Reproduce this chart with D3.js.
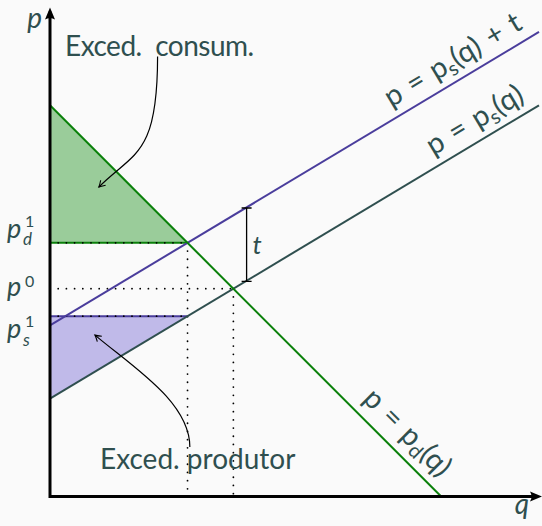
<!DOCTYPE html>
<html><head><meta charset="utf-8">
<script src="https://cdn.jsdelivr.net/npm/d3@7"></script>
<style>
html,body{margin:0;padding:0;background:#fafafa;}
svg{display:block;font-family:Lato,"Open Sans",sans-serif;}
</style></head><body>
<svg id="chart" width="542" height="526"></svg>
<script>
// ---- data ----
const qDomain = [0, 10];
const pDomain = [0, 10];
const demandLine = [{q:0,p:8},{q:8,p:0}];
const supplyLine = [{q:0,p:2},{q:10,p:8}];
const supplyTaxLine = [{q:0,p:3.5},{q:10,p:9.5}];
const taxValue = 1.5;
const taxMarkQ = 4;
const equilibrium0 = {q:3.75, p:4.25};
const equilibrium1 = {q:2.8125, pd:5.1875, ps:3.6875};
const consumerSurplus = [{q:0,p:8},{q:0,p:5.1875},{q:2.8125,p:5.1875}];
const producerSurplus = [{q:0,p:2},{q:0,p:3.6875},{q:2.8125,p:3.6875}];
const annotationLabels = ["Exced.\u2002consum.", "Exced. produtor"];
const annotationFrom = [{q:2.2,p:9.0},{q:2.86,p:1.01}];
const annotationTo = [{q:1.0,p:6.33},{q:0.92,p:3.3}];
const lineLabelPos = [8.45, 8.9, 7.0]; // q positions (supply+t, supply, demand)

// ---- styles ----
const C_TEXT = "#2f4f4f";
const C_GREEN = "#0a800a";
const C_GREEN_FILL = "#9acc9a";
const C_PURPLE = "#4a3d9c";
const C_PURPLE_FILL = "#c0bae9";
const C_SUPPLY = "#2f4f4f";

const svg = d3.select("#chart");
const x = d3.scaleLinear().domain(qDomain).range([50, 539]);
const y = d3.scaleLinear().domain(pDomain).range([496.5, 7.5]);
const line = d3.line().x(d => x(d.q)).y(d => y(d.p));

// fills
svg.append("path").attr("d", line(consumerSurplus) + "Z").attr("fill", C_GREEN_FILL);
svg.append("path").attr("d", line(producerSurplus) + "Z").attr("fill", C_PURPLE_FILL);

// surplus edges
svg.append("path").attr("d", line([consumerSurplus[1], consumerSurplus[2]]))
  .attr("stroke", C_GREEN).attr("stroke-width", 2).attr("fill", "none");
svg.append("path").attr("d", line([producerSurplus[1], producerSurplus[2]]))
  .attr("stroke", C_PURPLE).attr("stroke-width", 2).attr("fill", "none");

// dotted guides
const dotted = [
  [{q:0,p:equilibrium0.p},{q:equilibrium0.q,p:equilibrium0.p}],
  [{q:equilibrium0.q,p:equilibrium0.p},{q:equilibrium0.q,p:0}],
  [{q:0,p:equilibrium1.pd},{q:equilibrium1.q,p:equilibrium1.pd}],
  [{q:0,p:equilibrium1.ps},{q:equilibrium1.q,p:equilibrium1.ps}],
  [{q:equilibrium1.q,p:equilibrium1.pd},{q:equilibrium1.q,p:0}]
];
dotted.forEach(seg => {
  svg.append("path").attr("d", line(seg))
    .attr("stroke", "#000").attr("stroke-width", 1.8)
    .attr("stroke-linecap", "round").attr("stroke-dasharray", "0 8.2")
    .attr("fill", "none");
});

// main lines
svg.append("path").attr("d", line(supplyTaxLine)).attr("stroke", C_PURPLE).attr("stroke-width", 2).attr("fill", "none");
svg.append("path").attr("d", line(supplyLine)).attr("stroke", C_SUPPLY).attr("stroke-width", 2).attr("fill", "none");
svg.append("path").attr("d", line(demandLine)).attr("stroke", C_GREEN).attr("stroke-width", 2).attr("fill", "none");

// tax bracket
const pS4 = supplyLine[0].p + (supplyLine[1].p - supplyLine[0].p) / (supplyLine[1].q - supplyLine[0].q) * taxMarkQ;
const bx = x(taxMarkQ) + 1, by0 = y(pS4), by1 = y(pS4 + taxValue);
svg.append("path").attr("d", `M${bx},${by0}L${bx},${by1}M${bx-5},${by0}L${bx+5},${by0}M${bx-5},${by1}L${bx+5},${by1}`)
  .attr("stroke", "#000").attr("stroke-width", 1.3).attr("fill", "none");
svg.append("text").attr("x", bx + 6).attr("y", (by0 + by1) / 2 + 9)
  .attr("fill", C_TEXT).attr("font-size", 26).attr("font-style", "italic").text("t");

// axes
const ox = x(0), oy = y(0), xe = x(qDomain[1]), ye = y(pDomain[1]);
svg.append("path").attr("d", `M${ox},${ye + 4}L${ox},${oy}L${xe - 2},${oy}`)
  .attr("stroke", "#000").attr("stroke-width", 3).attr("fill", "none").attr("stroke-linejoin", "miter");
svg.append("path").attr("d", `M${ox},${ye}L${ox-5},${ye+12}Q${ox},${ye+9} ${ox+5},${ye+12}Z`).attr("fill", "#000");
svg.append("path").attr("d", `M${xe+3},${oy}L${xe-9},${oy-5}Q${xe-6},${oy} ${xe-9},${oy+5}Z`).attr("fill", "#000");

svg.append("text").attr("x", 42).attr("y", 28).attr("text-anchor", "end")
  .attr("fill", C_TEXT).attr("font-size", 28).attr("font-style", "italic").text("p");
svg.append("text").attr("x", 522).attr("y", 514).attr("text-anchor", "middle")
  .attr("fill", C_TEXT).attr("font-size", 28).attr("font-style", "italic").text("q");

// left price labels
function priceLabel(baseY, sup, sub, supDy, subDy) {
  const g = svg.append("g").attr("fill", C_TEXT).attr("font-style", "italic");
  g.append("text").attr("x", 7).attr("y", baseY).attr("font-size", 27).text("p");
  if (sup) g.append("text").attr("x", 25).attr("y", baseY + supDy).attr("font-size", 16).attr("font-style", "normal").text(sup);
  if (sub) g.append("text").attr("x", 23).attr("y", baseY + subDy).attr("font-size", 17).text(sub);
}
priceLabel(y(equilibrium1.pd) - 5, "1", "d", -11, 7);
priceLabel(y(equilibrium0.p) + 7, "0", null, -9, 0);
priceLabel(y(equilibrium1.ps) + 22, "1", "s", -11, 8);

// sloped line labels
function lineLabel(pts, q, parts, off) {
  const a = pts[0], b = pts[1];
  const slope = (b.p - a.p) / (b.q - a.q);
  const p = a.p + slope * (q - a.q);
  const ang = Math.atan2(y(b.p) - y(a.p), x(b.q) - x(a.q)) * 180 / Math.PI;
  const t = svg.append("text")
    .attr("transform", `translate(${x(q)},${y(p)}) rotate(${ang})`)
    .attr("y", -off).attr("text-anchor", "middle")
    .attr("fill", C_TEXT).attr("font-size", 29);
  parts.forEach(pt => {
    const ts = t.append("tspan").text(pt.t);
    if (pt.sub) ts.attr("font-size", 20).attr("dy", 5);
    if (pt.up) ts.attr("dy", -5);
  });
}
const sp = "\u2004";
lineLabel(supplyTaxLine, lineLabelPos[0], [{t:`p${sp}=${sp}p`},{t:"s",sub:true},{t:`(q)${sp}+${sp}t`,up:true}], 11);
lineLabel(supplyLine, lineLabelPos[1], [{t:`p${sp}=${sp}p`},{t:"s",sub:true},{t:"(q)",up:true}], 11);
lineLabel(demandLine, lineLabelPos[2], [{t:`p${sp}=${sp}p`},{t:"d",sub:true},{t:"(q)",up:true}], 12);

// annotations
svg.append("defs").append("marker").attr("id", "arr")
  .attr("viewBox", "-8 -5 10 10").attr("refX", 0).attr("refY", 0)
  .attr("markerWidth", 10).attr("markerHeight", 10).attr("markerUnits", "userSpaceOnUse")
  .attr("orient", "auto")
  .append("path").attr("d", "M-6,-3.5Q-2,-0.8 0,0Q-2,0.8 -6,3.5")
  .attr("fill", "none").attr("stroke", "#000").attr("stroke-width", 1.1);

const ctrl = [[{dx:0,dy:100},{dx:35,dy:-35}], [{dx:0,dy:-45},{dx:38,dy:32}]];
annotationFrom.forEach((s, i) => {
  const e = annotationTo[i];
  const sx = x(s.q), sy = y(s.p), ex = x(e.q), ey = y(e.p);
  const c = ctrl[i];
  svg.append("path")
    .attr("d", `M${sx},${sy}C${sx + c[0].dx},${sy + c[0].dy} ${ex + c[1].dx},${ey + c[1].dy} ${ex},${ey}`)
    .attr("stroke", "#000").attr("stroke-width", 1.2).attr("fill", "none")
    .attr("marker-end", "url(#arr)");
});

svg.append("text").attr("x", 65).attr("y", 56).attr("fill", C_TEXT).attr("font-size", 28)
  .attr("letter-spacing", -0.5).text(annotationLabels[0]);
svg.append("text").attr("x", 100).attr("y", 469).attr("fill", C_TEXT).attr("font-size", 28).text(annotationLabels[1]);
</script>
</body></html>
